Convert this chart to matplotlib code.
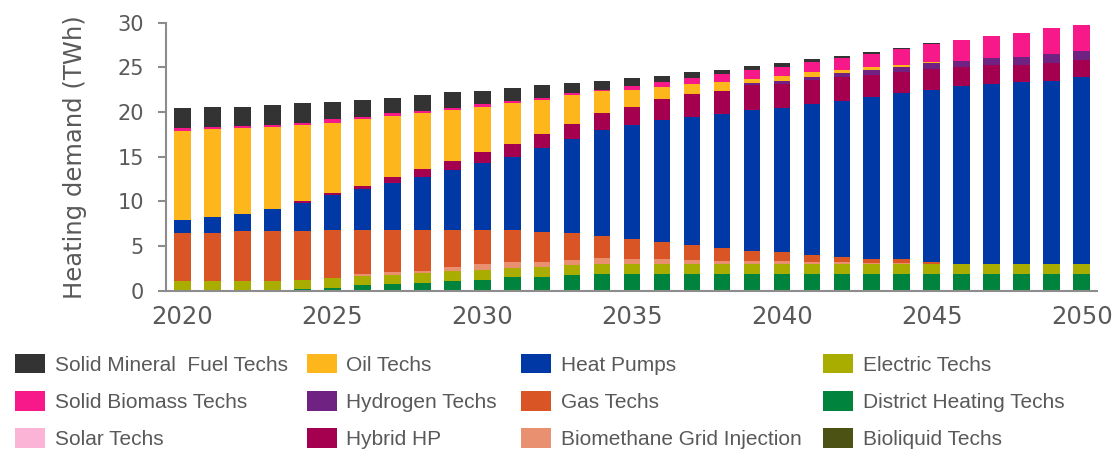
"""
Heating demand by technology, 2020-2050 (stacked bars)
"""
import numpy as np
import matplotlib
matplotlib.use('Agg')
import matplotlib.pyplot as plt
from matplotlib.patches import Patch

# ─────────────────────────────────────────────────────────
# Data (TWh), one value per year 2020..2050
# ─────────────────────────────────────────────────────────
years = list(range(2020, 2051))

district_heating = [0, 0, 0, 0, 0.2, 0.26, 0.6, 0.71, 0.82, 1.12, 1.19, 1.49, 1.57, 1.72,
                    1.92, 1.92, 1.92, 1.92, 1.92, 1.92, 1.92, 1.92, 1.92, 1.92, 1.92, 1.92,
                    1.92, 1.92, 1.92, 1.92, 1.92]
electric = [1.08, 1.08, 1.12, 1.12, 1.05, 1.2, 1.05, 1.08, 1.15, 1.05, 1.1, 1.05, 1.1, 1.12,
            1.08, 1.12, 1.12, 1.12, 1.12, 1.12, 1.12, 1.12, 1.12, 1.12, 1.12, 1.12,
            1.1, 1.1, 1.1, 1.1, 1.1]
biomethane = [0, 0, 0, 0, 0, 0, 0.19, 0.26, 0.24, 0.47, 0.68, 0.63, 0.56, 0.56,
              0.61, 0.51, 0.48, 0.37, 0.30, 0.30, 0.30, 0.19, 0.14, 0.09, 0.04, 0,
              0, 0, 0, 0, 0]
gas = [5.41, 5.41, 5.52, 5.52, 5.39, 5.33, 4.95, 4.74, 4.58, 4.15, 3.82, 3.62, 3.37, 3.02,
       2.55, 2.27, 1.89, 1.66, 1.44, 1.06, 0.95, 0.80, 0.55, 0.44, 0.42, 0.21,
       0, 0, 0, 0, 0]
heat_pumps = [1.42, 1.71, 1.9, 2.56, 3.21, 3.91, 4.55, 5.31, 5.97, 6.71, 7.46, 8.21, 9.33, 10.52,
              11.84, 12.68, 13.69, 14.41, 15.0, 15.86, 16.11, 16.87, 17.54, 18.1, 18.6, 19.21,
              19.88, 20.11, 20.38, 20.48, 20.86]
hybrid_hp = [0, 0, 0, 0, 0.22, 0.2, 0.36, 0.66, 0.84, 1.0, 1.31, 1.42, 1.61, 1.76,
             1.85, 2.05, 2.4, 2.52, 2.61, 2.74, 2.7, 2.7, 2.61, 2.43, 2.4, 2.32,
             2.17, 2.13, 1.86, 1.95, 1.94]
hydrogen = [0, 0, 0, 0, 0, 0, 0, 0, 0, 0, 0, 0, 0, 0,
            0, 0, 0, 0, 0, 0.2, 0.4, 0.35, 0.49, 0.6, 0.57, 0.67,
            0.68, 0.82, 0.94, 1.01, 1.01]
bioliquid = [0] * 31
oil = [9.99, 9.86, 9.71, 9.16, 8.43, 7.9, 7.48, 6.79, 6.25, 5.7, 5.04, 4.55, 3.86, 3.2,
       2.45, 1.93, 1.26, 1.1, 0.97, 0.5, 0.5, 0.49, 0.33, 0.33, 0.19, 0.15,
       0, 0, 0, 0, 0]
solar = [0] * 31
solid_biomass = [0.27, 0.24, 0.22, 0.24, 0.3, 0.38, 0.3, 0.3, 0.25, 0.3, 0.3, 0.23, 0.2, 0.26,
                 0.2, 0.47, 0.6, 0.7, 0.89, 1.0, 1.07, 1.12, 1.3, 1.52, 1.79, 2.0,
                 2.35, 2.42, 2.6, 2.91, 2.91]
solid_mineral = [2.23, 2.3, 2.13, 2.2, 2.17, 1.92, 1.92, 1.75, 1.8, 1.7, 1.5, 1.45, 1.4, 1.14,
                 1.0, 0.9, 0.71, 0.64, 0.45, 0.4, 0.38, 0.37, 0.3, 0.2, 0.15, 0.16,
                 0, 0, 0, 0, 0]

# stacking order, bottom -> top
series = [
    ('District Heating Techs', district_heating, '#00843D'),
    ('Electric Techs', electric, '#A8AD00'),
    ('Biomethane Grid Injection', biomethane, '#E8906F'),
    ('Gas Techs', gas, '#DA5525'),
    ('Heat Pumps', heat_pumps, '#0039A6'),
    ('Hybrid HP', hybrid_hp, '#A50050'),
    ('Hydrogen Techs', hydrogen, '#6F2282'),
    ('Bioliquid Techs', bioliquid, '#4B5214'),
    ('Oil Techs', oil, '#FDB61C'),
    ('Solar Techs', solar, '#FBB4D6'),
    ('Solid Biomass Techs', solid_biomass, '#F7198A'),
    ('Solid Mineral  Fuel Techs', solid_mineral, '#333333'),
]
colors = {name: col for name, _, col in series}

# legend layout (columns, top -> bottom)
legend_cols = [
    ['Solid Mineral  Fuel Techs', 'Solid Biomass Techs', 'Solar Techs'],
    ['Oil Techs', 'Hydrogen Techs', 'Hybrid HP'],
    ['Heat Pumps', 'Gas Techs', 'Biomethane Grid Injection'],
    ['Electric Techs', 'District Heating Techs', 'Bioliquid Techs'],
]

TXT = '#595959'
AXC = '#8C8C8C'

# ─────────────────────────────────────────────────────────
# Figure
# ─────────────────────────────────────────────────────────
fig = plt.figure(figsize=(11.15, 4.53), dpi=100)
ax = fig.add_axes([0.1489, 0.3583, 0.835, 0.5916])

bottom = np.zeros(len(years))
for name, vals, col in series:
    ax.bar(years, vals, width=0.56, bottom=bottom, color=col, linewidth=0)
    bottom += np.array(vals)

ax.set_xlim(2019.456, 2050.51)
ax.set_ylim(0, 30)
ax.set_yticks(range(0, 31, 5))
ax.set_xticks(range(2020, 2051, 5))

for s in ['top', 'right']:
    ax.spines[s].set_visible(False)
for s in ['left', 'bottom']:
    ax.spines[s].set_color(AXC)
    ax.spines[s].set_linewidth(1.5)

ax.tick_params(axis='y', length=6, width=1.5, color=AXC, labelcolor=TXT,
               labelsize=15, pad=10)
ax.tick_params(axis='x', length=0, labelcolor=TXT, labelsize=17.5, pad=10)
ax.set_ylabel('Heating demand (TWh)', fontsize=17.5, color=TXT)
ax.yaxis.set_label_coords(-0.085, 0.5)

# ─────────────────────────────────────────────────────────
# Legend — one legend per column
# ─────────────────────────────────────────────────────────
col_x = [15, 306.5, 520.7, 823]
for x0, names in zip(col_x, legend_cols):
    handles = [Patch(facecolor=colors[n], edgecolor='none') for n in names]
    leg = fig.legend(handles, names, loc='upper left',
                     bbox_to_anchor=(x0 / 1115, 1 - 354 / 453),
                     frameon=False, borderpad=0, borderaxespad=0,
                     handlelength=1.44, handleheight=1.06, handletextpad=0.48,
                     labelspacing=0.78,
                     prop={'family': 'Liberation Sans', 'size': 15})
    for t in leg.get_texts():
        t.set_color(TXT)

plt.savefig('out.png', dpi=100)
plt.close()
